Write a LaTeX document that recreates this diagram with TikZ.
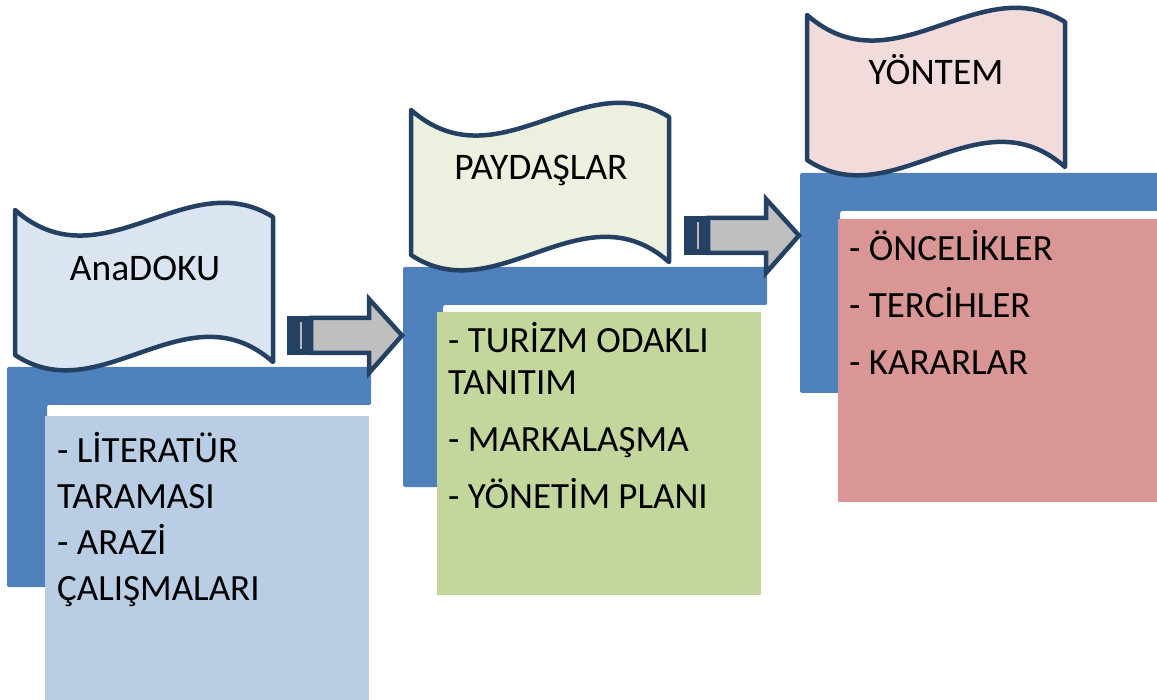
\documentclass[tikz,border=0pt]{standalone}
\usepackage{fontspec}
\setmainfont{Carlito}
\definecolor{navy}{RGB}{36,64,98}
\definecolor{barblue}{RGB}{79,129,189}
\definecolor{waveA}{RGB}{219,229,241}
\definecolor{waveB}{RGB}{235,241,222}
\definecolor{waveC}{RGB}{242,220,219}
\definecolor{boxA}{RGB}{185,205,229}
\definecolor{boxB}{RGB}{195,214,155}
\definecolor{boxC}{RGB}{217,150,148}
\definecolor{arrowgray}{RGB}{191,191,191}
\tikzset{
  wave/.pic={
    \path[pic actions, draw=navy, line width=4.5pt, line join=round]
      (0,0) .. controls (87,76) and (172,-47) .. (258,7)
      -- (258,152) .. controls (172,76) and (86,202) .. (0,145) -- cycle;
  },
  frameL/.pic={
    \path[fill=barblue, rounded corners=1.5pt]
      (0,0) -- (364,0) -- (364,38) -- (40,38) -- (40,220) -- (0,220) -- cycle;
  },
  stripedarrow/.pic={
    \path[fill=navy] (287,316) rectangle (311,355);
    \draw[line width=2pt, draw=gray!55] (301,322) -- (301,349);
    \path[fill=arrowgray, draw=navy, line width=4.5pt, line join=miter]
      (311,318) -- (369,318) -- (369,299) -- (402,335.5) -- (369,373)
      -- (369,353) -- (311,353) -- cycle;
  },
  boxfill/.style={draw=none, inner sep=0pt, anchor=north west},
  bodytext/.style={anchor=base west, inner sep=0pt, align=left},
  titletext/.style={anchor=base, inner sep=0pt, font=\fontsize{37.5}{40}\selectfont}
}
\begin{document}
\begin{tikzpicture}[x=1pt, y=-1pt]
\useasboundingbox (0,0) rectangle (1157,700);

% group 1
\pic at (7,367) {frameL};
\node[boxfill, fill=boxA, minimum width=324pt, minimum height=284pt] (boxA) at (45,416) {};
\pic[fill=waveA] at (15,210) {wave};
\node[titletext] (titleA) at (145,281) {AnaDOKU};
\node[bodytext] (textA) at (57,463) {\parbox[t]{310pt}{\fontsize{37}{46}\selectfont\raggedright
- LİTERATÜR\\TARAMASI\\- ARAZİ\\ÇALIŞMALARI}};

% group 2
\pic at (403,267) {frameL};
\node[boxfill, fill=boxB, minimum width=324pt, minimum height=283pt] (boxB) at (437,312) {};
\pic[fill=waveB] at (411,110) {wave};
\node[titletext] (titleB) at (541,180) {PAYDAŞLAR};
\node[bodytext] (textB) at (448,353) {\parbox[t]{310pt}{\fontsize{37}{42}\selectfont\raggedright
- TURİZM ODAKLI\\TANITIM\\[15pt]- MARKALAŞMA\\[15pt]- YÖNETİM PLANI}};

% group 3
\pic at (800,173) {frameL};
\node[boxfill, fill=boxC, minimum width=319pt, minimum height=283pt] (boxC) at (838,219) {};
\pic[fill=waveC] at (807,15) {wave};
\node[titletext] (titleC) at (936,85) {YÖNTEM};
\node[bodytext] (textC) at (849,261) {\parbox[t]{300pt}{\fontsize{37}{42}\selectfont\raggedright
- ÖNCELİKLER\\[15pt]- TERCİHLER\\[15pt]- KARARLAR}};

% arrows
\pic at (0,0) {stripedarrow};
\pic at (397,-100) {stripedarrow};
\end{tikzpicture}
\end{document}
